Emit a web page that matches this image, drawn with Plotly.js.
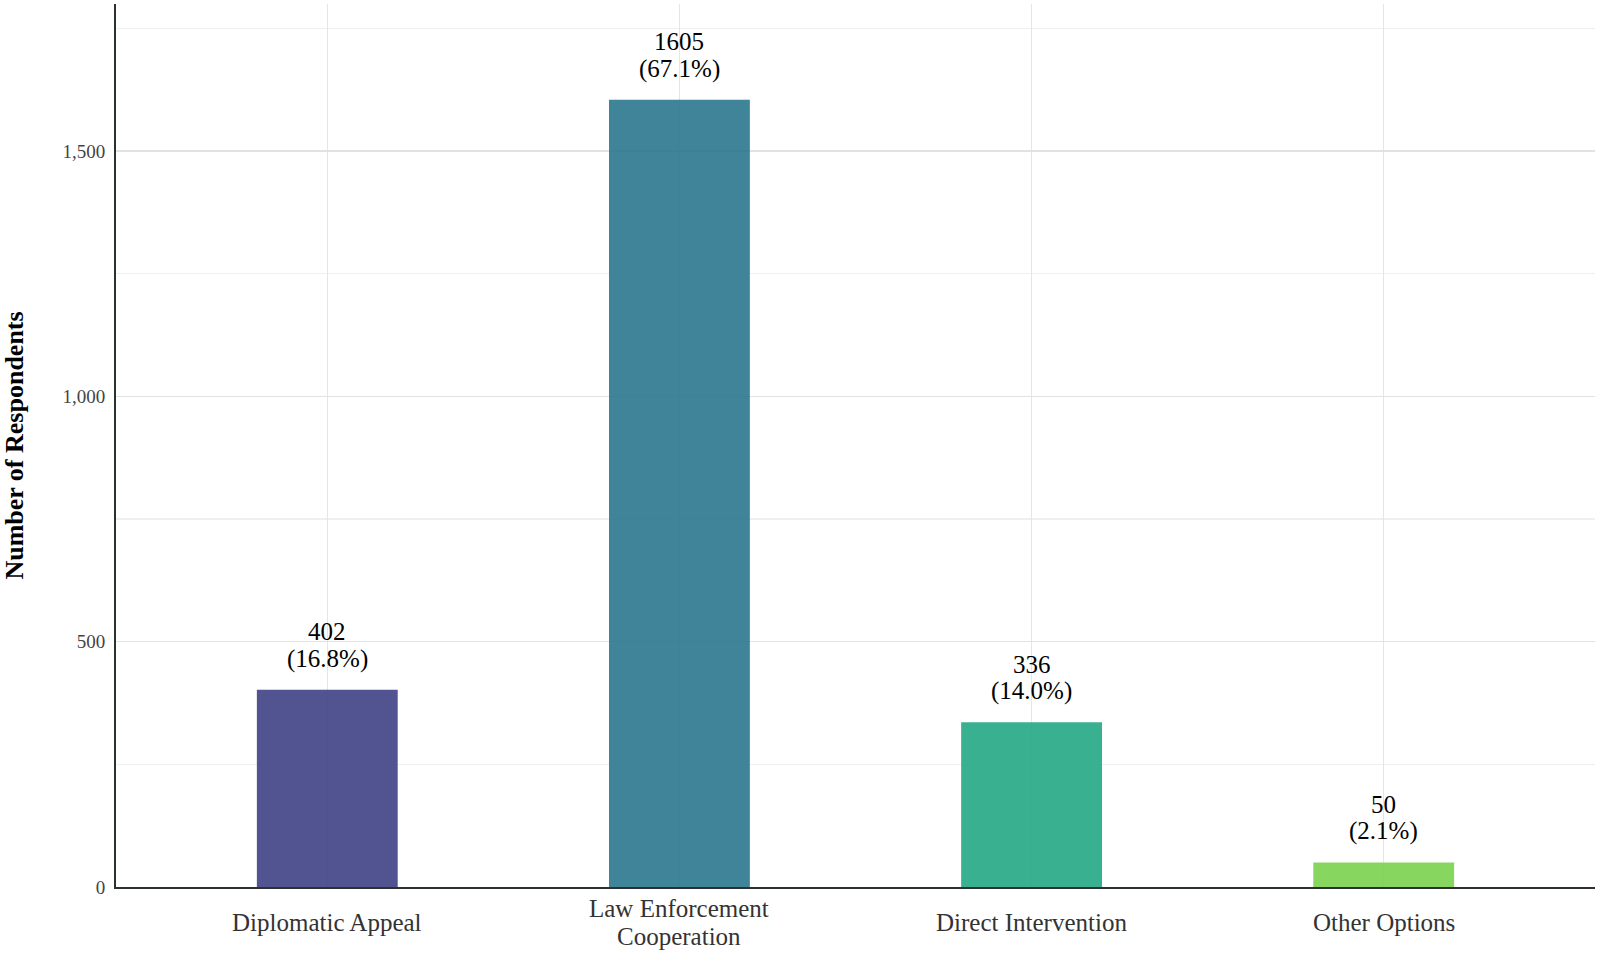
<!DOCTYPE html>
<html>
<head>
<meta charset="utf-8">
<script src="https://cdn.plot.ly/plotly-3.0.1.min.js"></script>
<style>
  html, body { margin: 0; padding: 0; background: #ffffff; }
  #chart { width: 1600px; height: 954px; }
</style>
</head>
<body>
<div id="chart"></div>
<script>
// Preferred response among survey respondents
const categories = ["Diplomatic Appeal", "Law Enforcement<br>Cooperation", "Direct Intervention", "Other Options"];
const counts = [402, 1605, 336, 50];
const shares = [16.8, 67.1, 14.0, 2.1];
const barColors = ["#3f4185", "#2a778e", "#24a885", "#79d14e"];
const yTickValues = [0, 500, 1000, 1500];
const yTickLabels = ["0", "500", "1,000", "1,500"];

const serif = "'Liberation Serif', 'Times New Roman', serif";

const trace = {
  type: "bar",
  x: categories,
  y: counts,
  marker: { color: barColors, opacity: 0.9, line: { width: 0 } },
  hoverinfo: "skip"
};

// Value labels above each bar: count on the first line, share on the second
const annotations = [];
categories.forEach((cat, i) => {
  annotations.push({
    x: cat, y: counts[i], xref: "x", yref: "y",
    text: String(counts[i]),
    showarrow: false, xanchor: "center", yanchor: "middle", yshift: 58,
    font: { family: serif, size: 25, color: "#000000" }
  });
  annotations.push({
    x: cat, y: counts[i], xref: "x", yref: "y",
    text: "(" + shares[i].toFixed(1) + "%)",
    showarrow: false, xanchor: "center", yanchor: "middle", yshift: 31,
    font: { family: serif, size: 25, color: "#000000" }
  });
});

// Category labels under the axis, vertically centred as a block
categories.forEach((cat) => {
  const lines = cat.split("<br>");
  lines.forEach((line, j) => {
    annotations.push({
      x: cat, y: 0, xref: "x", yref: "paper",
      text: line,
      showarrow: false, xanchor: "center", yanchor: "middle",
      yshift: -35 - (j - (lines.length - 1) / 2) * 28,
      font: { family: serif, size: 25, color: "#333333" }
    });
  });
});

const layout = {
  width: 1600,
  height: 954,
  margin: { l: 116, r: 5, t: 4, b: 67 },
  paper_bgcolor: "#ffffff",
  plot_bgcolor: "#ffffff",
  bargap: 0.6,
  showlegend: false,
  font: { family: serif },
  annotations: annotations,
  xaxis: {
    type: "category",
    range: [-0.6, 3.6],
    showgrid: true,
    gridcolor: "#e5e5e5",
    gridwidth: 1.5,
    showline: true,
    linecolor: "#2b3033",
    linewidth: 2,
    ticks: "",
    showticklabels: false,
    zeroline: false,
    fixedrange: true
  },
  yaxis: {
    range: [0, 1800],
    tickvals: yTickValues,
    ticktext: yTickLabels,
    showgrid: true,
    gridcolor: "#e2e2e2",
    gridwidth: 1.5,
    minor: { dtick: 250, showgrid: true, gridcolor: "#efefef", gridwidth: 1.2 },
    showline: true,
    linecolor: "#2b3033",
    linewidth: 2,
    ticks: "",
    ticklabelstandoff: 5,
    tickfont: { family: serif, size: 19, color: "#444444" },
    zeroline: false,
    automargin: false,
    title: {
      text: "<b>Number of Respondents</b>",
      font: { family: serif, size: 26, color: "#000000" },
      standoff: 35
    },
    fixedrange: true
  }
};

Plotly.newPlot("chart", [trace], layout, { displayModeBar: false, staticPlot: true });
</script>
</body>
</html>
